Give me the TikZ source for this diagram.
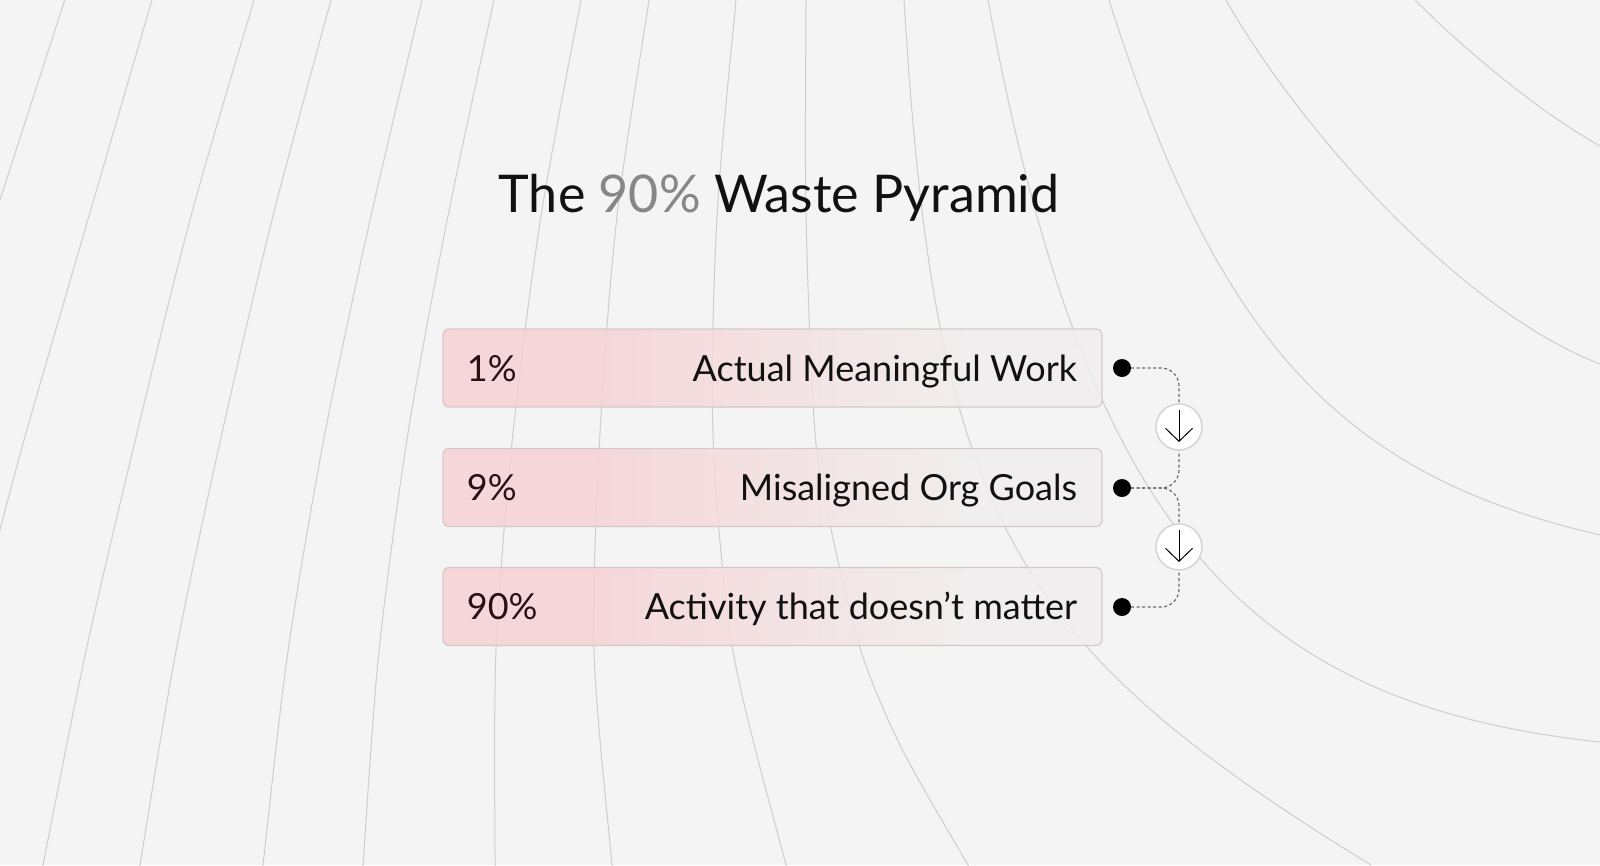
\documentclass[tikz,border=0pt]{standalone}
\usepackage{fontspec}
\setmainfont{Lato}
\usepackage{tikz}
\usepackage{xcolor}
\usetikzlibrary{arrows.meta}

\definecolor{bgcol}{HTML}{F4F4F4}
\definecolor{linecol}{HTML}{CDCDCD}
\definecolor{boxpink}{HTML}{F6D2D5}
\definecolor{boxgray}{HTML}{F0EEEE}
\definecolor{boxline}{HTML}{D6C8C9}
\definecolor{pctcol}{HTML}{2B1013}
\definecolor{lblcol}{HTML}{111111}
\definecolor{midgray}{HTML}{878787}
\definecolor{conncol}{HTML}{6A6A6A}
\definecolor{circcol}{HTML}{D4D4D4}

\pgfdeclarehorizontalshading{boxfade}{100bp}{color(0bp)=(boxpink); color(36bp)=(boxpink); color(66bp)=(boxgray); color(100bp)=(boxgray)}

\tikzset{
  bgline/.style={draw=linecol, line width=1pt},
  bar/.style={rectangle, rounded corners=6pt, minimum width=659pt, minimum height=78pt, inner sep=0pt, shade, shading=boxfade, fill opacity=0.85, draw=boxline, line width=1.2pt},
  pct/.style={anchor=base west, text=pctcol, font=\fontsize{36}{42}\selectfont},
  lbl/.style={anchor=base east, text=lblcol, font=\fontsize{36}{42}\selectfont},
  dot/.style={circle, fill=black, inner sep=0pt, minimum size=18pt},
  stepcirc/.style={circle, fill=white, draw=circcol, line width=1.5pt, minimum size=46pt, inner sep=0pt},
  conn/.style={draw=conncol, line width=1.2pt, dash pattern=on 3pt off 2.5pt, rounded corners=18pt},
  downarr/.style={line width=1pt, -{Straight Barb[length=13pt,width=27pt]}}
}

\begin{document}
\begin{tikzpicture}[x=1pt,y=-1pt]

\useasboundingbox (0,0) rectangle (1600,865);
\fill[bgcol] (0,0) rectangle (1600,865);

\begin{scope}
\clip (0,0) rectangle (1600,865);
\draw[bgline] (68,-10) -- (-4,212);
\draw[bgline] plot[smooth] coordinates {(155,-10) (152,0) (89,216) (26,433) (-4,545)};
\draw[bgline] plot[smooth] coordinates {(257,-10) (254,0) (191,216) (137,433) (86,651) (43,865) (41,875)};
\draw[bgline] plot[smooth] coordinates {(334,-10) (331,0) (273,216) (222,433) (176,651) (140,865) (139,875)};
\draw[bgline] plot[smooth] coordinates {(425,-10) (422,0) (371,216) (325,433) (288,651) (263,865) (262,875)};
\draw[bgline] plot[smooth] coordinates {(496,-10) (494,0) (448,216) (408,433) (379,651) (363,865) (362,875)};
\draw[bgline] plot[smooth] coordinates {(583,-10) (581,0) (541,216) (513,433) (496,651) (495,865) (495,875)};
\draw[bgline] plot[smooth] coordinates {(650,-10) (649,0) (617,216) (600,433) (594,651) (612,865) (613,875)};
\draw[bgline] plot[smooth] coordinates {(737,-10) (736,0) (717,216) (713,433) (733,651) (786,865) (789,875)};
\draw[bgline] plot[smooth] coordinates {(806,-10) (806,0) (806,216) (815,433) (831,529) (861,651) (902,749) (968,865) (974,875)};
\draw[bgline] (904,0) .. controls (935,511) and (1005,641) .. (1371,865);
\draw[bgline] (988,0) .. controls (1084,518) and (1237,703) .. (1600,742);
\draw[bgline] (1109,0) .. controls (1217,341) and (1340,475) .. (1600,535);
\draw[bgline] (1226,0) .. controls (1300,130) and (1460,310) .. (1600,364);
\draw[bgline] (1415,0) .. controls (1470,55) and (1540,112) .. (1600,146);
\end{scope}

\node[anchor=base, text=lblcol, font=\fontsize{52}{62}\selectfont] (ttl) at (779,212) {The {\color{midgray}90\%} Waste Pyramid};

\node[bar] (b1) at (772.5,368) {};
\node[bar] (b2) at (772.5,487.5) {};
\node[bar] (b3) at (772.5,606.5) {};

\node[pct] (p1) at ([xshift=21pt,yshift=-13pt]b1.west) {1\%};
\node[pct] (p2) at ([xshift=21pt,yshift=-13pt]b2.west) {9\%};
\node[pct] (p3) at ([xshift=21pt,yshift=-13pt]b3.west) {90\%};
\node[lbl] (l1) at ([xshift=-22pt,yshift=-13pt]b1.east) {Actual Meaningful Work};
\node[lbl] (l2) at ([xshift=-22pt,yshift=-13pt]b2.east) {Misaligned Org Goals};
\node[lbl] (l3) at ([xshift=-22pt,yshift=-13pt]b3.east) {Activity that doesn’t matter};

\node[dot] (d1) at (1122,368) {};
\node[dot] (d2) at (1122,488) {};
\node[dot] (d3) at (1122,607) {};
\node[stepcirc] (c1) at (1179,427) {};
\node[stepcirc] (c2) at (1179,547) {};

\draw[conn] (d1) -| (c1);
\draw[conn] (d2) -| (c1);
\draw[conn] (d2) -| (c2);
\draw[conn] (d3) -| (c2);

\draw[downarr] ([yshift=17pt]c1.center) -- ([yshift=-15pt]c1.center);
\draw[downarr] ([yshift=17pt]c2.center) -- ([yshift=-15pt]c2.center);

\end{tikzpicture}
\end{document}
